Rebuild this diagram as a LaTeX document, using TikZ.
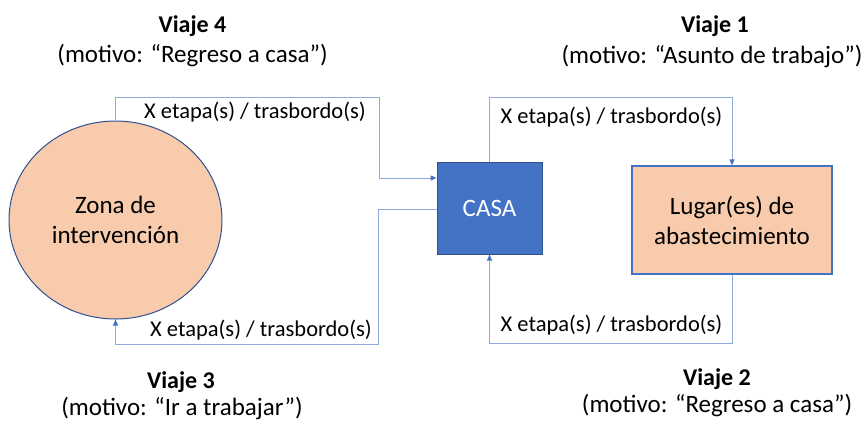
\documentclass[tikz,border=0pt]{standalone}
\usepackage{fontspec}
\setmainfont{Carlito}
\usetikzlibrary{arrows.meta,shapes.geometric}
\definecolor{peach}{HTML}{F8CBAD}
\definecolor{accblue}{HTML}{4472C4}
\definecolor{darkblue}{HTML}{2F528F}
\definecolor{linkblue}{HTML}{8FAADC}
\tikzset{
  conn/.style={draw=linkblue, line width=1pt, -{Triangle[length=6pt,width=5pt,color=accblue]}},
  lbl/.style={font=\fontsize{22.5}{27}\selectfont, inner sep=0pt, anchor=base},
  ttl/.style={font=\fontsize{24}{28}\selectfont\bfseries, inner sep=0pt, anchor=base},
  mot/.style={font=\fontsize{25}{30}\selectfont, inner sep=0pt, anchor=base},
  boxtext/.style={font=\fontsize{25}{30}\selectfont, align=center}
}
\begin{document}
\begin{tikzpicture}[x=1pt,y=-1pt]
\useasboundingbox (0,0) rectangle (866,421);
\node[ellipse, draw=darkblue, line width=1pt, fill=peach, minimum width=213pt, minimum height=198pt, inner sep=0pt, boxtext] (zona) at (115.5,220) {Zona de\\intervención};
\node[rectangle, draw=darkblue, line width=1pt, fill=accblue, minimum width=105pt, minimum height=92pt, inner sep=0pt, boxtext, text=white] (casa) at (489.5,208) {CASA};
\node[rectangle, draw=accblue, line width=1.3pt, fill=peach, minimum width=200pt, minimum height=108pt, inner sep=0pt, boxtext] (lugar) at (732,220) {Lugar(es) de\\abastecimiento};
\coordinate (t4) at (379,97);
\coordinate (b3) at (378,344);
\coordinate (t1) at (732,97);
\coordinate (b2) at (489.5,343);
\draw[conn] (zona.north) |- (t4) |- ([yshift=30pt]casa.west);
\draw[conn] ([yshift=-1pt]casa.west) -| (b3) -| (zona.south);
\draw[conn] (casa.north) |- (t1) -- (lugar.north);
\draw[conn] (lugar.south) |- (b2) -- (casa.south);
\node[lbl] (l4) at (255,118) {X etapa(s) / trasbordo(s)};
\node[lbl] (l3) at (261,336) {X etapa(s) / trasbordo(s)};
\node[lbl] (l1) at (611.5,123) {X etapa(s) / trasbordo(s)};
\node[lbl] (l2) at (611.5,331) {X etapa(s) / trasbordo(s)};
\node[ttl] (v4) at (192.5,32) {Viaje 4};
\node[mot] (m4) at (192.5,62) {(motivo: “Regreso a casa”)};
\node[ttl] (v1) at (715,32) {Viaje 1};
\node[mot] (m1) at (712,63) {(motivo: “Asunto de trabajo”)};
\node[ttl] (v3) at (181,388) {Viaje 3};
\node[mot] (m3) at (182,415) {(motivo: “Ir a trabajar”)};
\node[ttl] (v2) at (717,385) {Viaje 2};
\node[mot] (m2) at (717,412) {(motivo: “Regreso a casa”)};
\end{tikzpicture}
\end{document}
